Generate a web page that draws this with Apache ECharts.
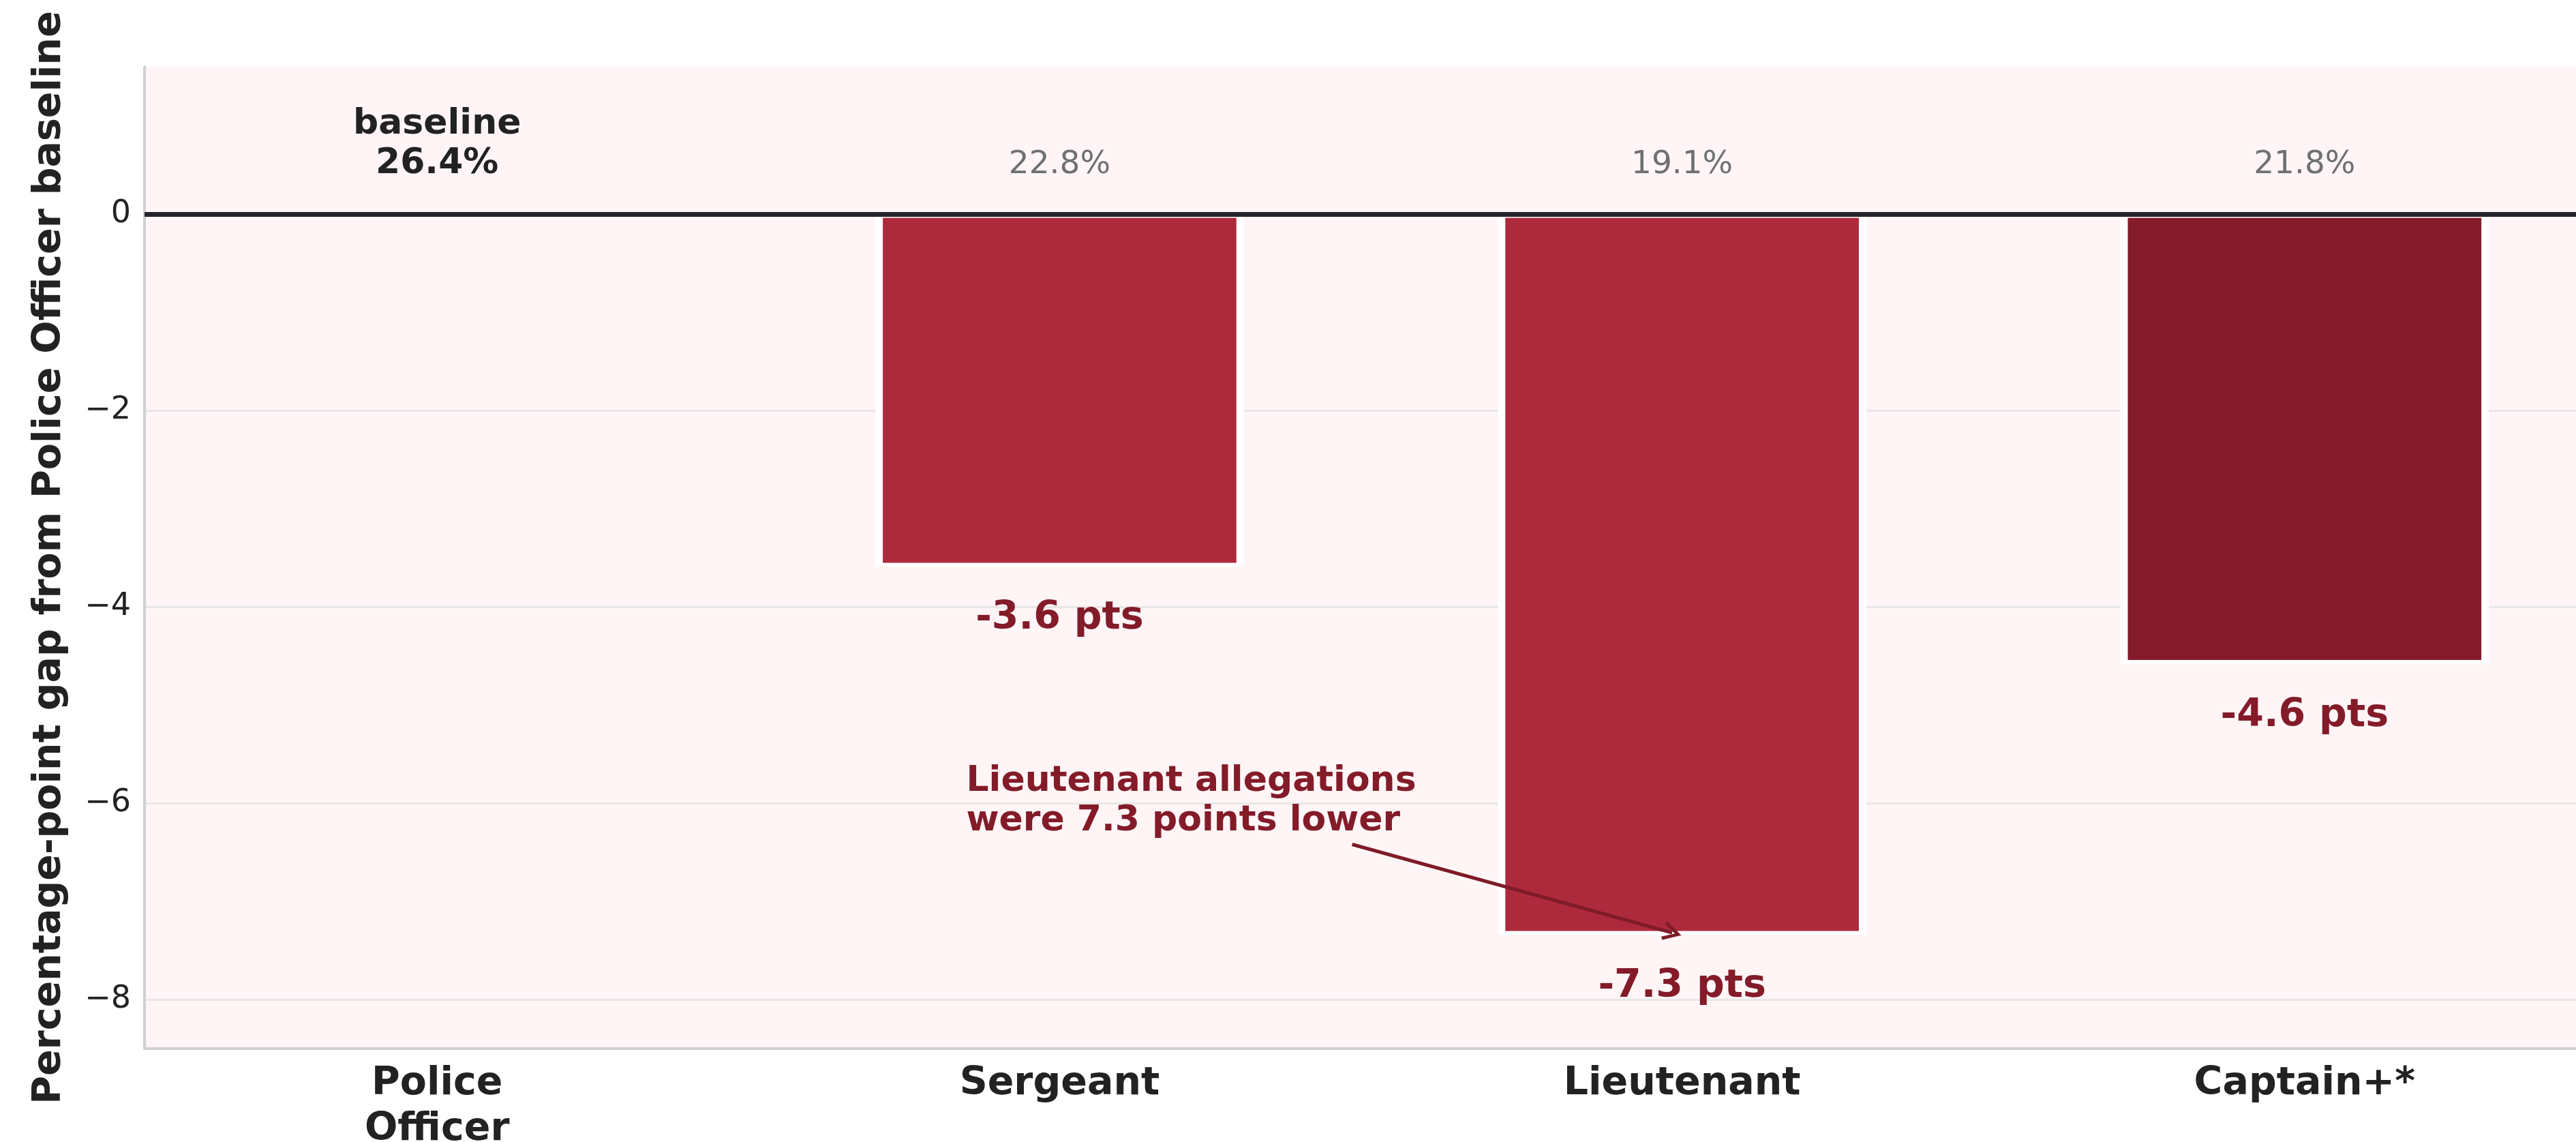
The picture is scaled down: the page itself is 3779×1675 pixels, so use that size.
<!DOCTYPE html>
<html>
<head>
<meta charset="utf-8">
<script src="https://cdn.jsdelivr.net/npm/echarts@6/dist/echarts.min.js"></script>
<style>
html, body { margin: 0; padding: 0; background: #fff; }
#chart { width: 3779px; height: 1675px; }
</style>
</head>
<body>
<div id="chart"></div>
<script>
// values
let ranks = ['Police\nOfficer', 'Sergeant', 'Lieutenant', 'Captain+*'];
let rates = [26.4, 22.8, 19.1, 21.8];
let gaps = [0, -3.59, -7.34, -4.58];
let barColors = ['#AD2A3C', '#AD2A3C', '#AD2A3C', '#841B2A'];
let yTicks = [-8, -6, -4, -2, 0];
let xTicks = [0, 1, 2, 3];
let noteText = 'Lieutenant allegations\nwere 7.3 points lower';
let notePos = [0.85, -5.98];
let arrowFrom = [1.47, -6.42];
let arrowTo = [1.984, -7.32];
let pctY = 0.5;
let baseY = 0.71;

let font = 'DejaVu Sans';
let dark = '#222222';
let wine = '#831B29';

let chart = echarts.init(document.getElementById('chart'));

let barData = [];
let haloData = [];
for (let i = 1; i < ranks.length; i++) {
    barData.push({value: [i, gaps[i]], itemStyle: {color: barColors[i]}});
    haloData.push([i, gaps[i]]);
}

let pctData = [];
for (let i = 0; i < ranks.length; i++) {
    if (i === 0) {
        pctData.push({
            value: [i, baseY],
            label: {
                formatter: 'baseline\n' + rates[i].toFixed(1) + '%',
                color: dark, fontWeight: 'bold', fontSize: 52, lineHeight: 58
            }
        });
    } else {
        pctData.push({value: [i, pctY], label: {formatter: rates[i].toFixed(1) + '%'}});
    }
}

let plotLeft = 212;
let xMin = -0.47, xMax = 3.436;
let unitPx = (3779 - plotLeft) / (xMax - xMin);
let barPx = unitPx * 0.58;

let option = {
    animation: false,
    backgroundColor: '#ffffff',
    textStyle: {fontFamily: font},
    grid: {
        left: plotLeft, right: 0, top: 98, bottom: 137,
        outerBoundsMode: 'none',
        containLabel: false,
        show: true, backgroundColor: '#FFF5F6', borderWidth: 0
    },
    xAxis: [
        {
            type: 'value',
            min: xMin,
            max: xMax,
            axisLine: {show: true, onZero: false, lineStyle: {color: '#D0D0D0', width: 4}},
            axisTick: {show: false, customValues: xTicks},
            splitLine: {show: false},
            axisLabel: {
                customValues: xTicks,
                formatter: function (v) { return ranks[Math.round(v)]; },
                fontSize: 57, fontWeight: 'bold', color: dark, lineHeight: 67, margin: 19,
                fontFamily: font
            }
        },
        {
            // twin axis so the white halo bars are laid out on their own
            type: 'value',
            min: xMin,
            max: xMax,
            show: false
        }
    ],
    yAxis: {
        type: 'value',
        min: -8.5,
        max: 1.5,
        name: 'Percentage-point gap from Police Officer baseline',
        nameLocation: 'middle',
        nameGap: 110,
        nameTextStyle: {fontSize: 57, fontWeight: 'bold', color: dark, fontFamily: font},
        axisLine: {show: true, onZero: false, lineStyle: {color: '#D0D0D0', width: 4}},
        axisTick: {show: false, customValues: yTicks},
        splitLine: {show: true, lineStyle: {color: '#E8E6E6', width: 3}},
        axisLabel: {
            customValues: yTicks,
            formatter: function (v) { return v < 0 ? '\u2212' + Math.abs(v) : String(v); },
            fontSize: 46, color: dark, margin: 20, fontFamily: font
        }
    },
    series: [
        {
            name: 'halo',
            type: 'bar',
            xAxisIndex: 1,
            data: haloData,
            barWidth: barPx + 11,
            silent: true,
            itemStyle: {color: '#ffffff'}
        },
        {
            name: 'gap',
            type: 'bar',
            data: barData,
            barWidth: barPx,
            itemStyle: {borderColor: '#ffffff', borderWidth: 5.5},
            label: {
                show: true,
                position: 'bottom',
                distance: 48,
                formatter: function (p) { return p.value[1].toFixed(1) + ' pts'; },
                fontSize: 57, fontWeight: 'bold', color: wine, fontFamily: font
            },
            markLine: {
                silent: true,
                symbol: ['none', 'none'],
                label: {show: false},
                lineStyle: {color: '#23232A', width: 7, type: 'solid'},
                data: [{yAxis: 0}]
            }
        },
        {
            name: 'rate',
            type: 'scatter',
            data: pctData,
            symbolSize: 0,
            silent: true,
            itemStyle: {opacity: 1},
            label: {
                show: true,
                position: 'inside',
                fontSize: 47, color: '#707070', fontFamily: font
            }
        },
        {
            name: 'note',
            type: 'scatter',
            data: [{value: notePos}],
            symbolSize: 0,
            silent: true,
            itemStyle: {opacity: 1},
            label: {
                show: true,
                position: 'right',
                distance: 0,
                formatter: noteText,
                fontSize: 52, fontWeight: 'bold', lineHeight: 58, color: wine, fontFamily: font
            },
            markLine: {
                silent: true,
                symbol: ['none', 'path://M10,0 L20,18 L17,20 L10,7 L3,20 L0,18 Z'],
                symbolSize: [28, 28],
                label: {show: false},
                lineStyle: {color: '#7E1B28', width: 5, type: 'solid'},
                data: [[{coord: arrowFrom}, {coord: arrowTo}]]
            }
        }
    ]
};

chart.setOption(option);
</script>
</body>
</html>
